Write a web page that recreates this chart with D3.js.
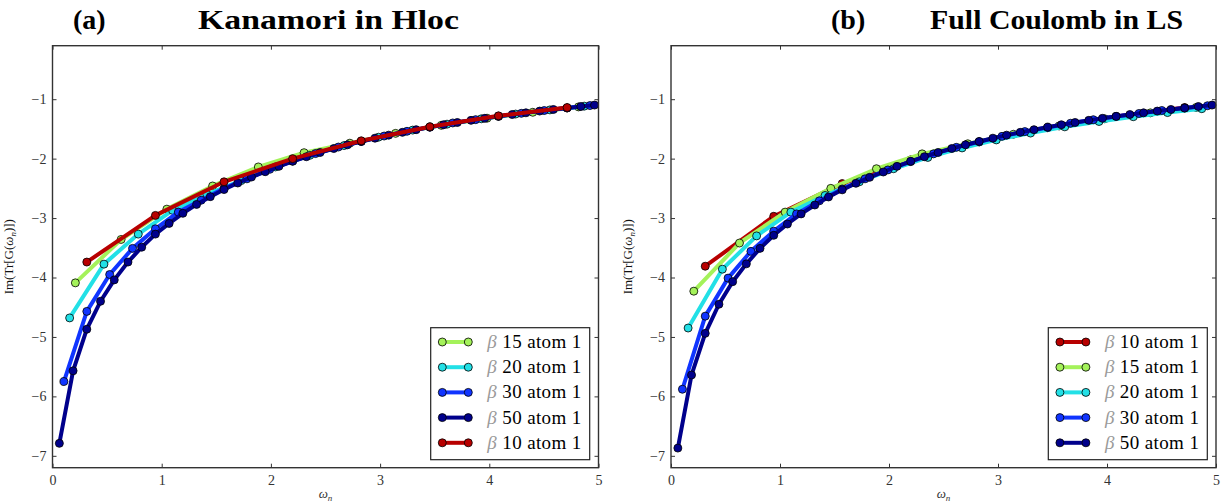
<!DOCTYPE html>
<html>
<head>
<meta charset="utf-8">
<script src="https://cdn.jsdelivr.net/npm/d3@7"></script>
<style>
  body { margin: 0; background: #fff; }
  svg { display: block; }
</style>
</head>
<body>
<svg id="chart" width="1225" height="504"></svg>
<script>
const wBeta10 = [0.3142, 0.9425, 1.5708, 2.1991, 2.8274, 3.4558, 4.0841, 4.7124];
const wBeta15 = [0.2094, 0.6283, 1.0472, 1.4661, 1.8850, 2.3038, 2.7227, 3.1416, 3.5605, 3.9794, 4.3982, 4.8171];
const wBeta20 = [0.1571, 0.4712, 0.7854, 1.0996, 1.4137, 1.7279, 2.0420, 2.3562, 2.6704, 2.9845, 3.2987, 3.6128, 3.9270, 4.2412, 4.5553, 4.8695];
const wBeta30 = [0.1047, 0.3142, 0.5236, 0.7330, 0.9425, 1.1519, 1.3614, 1.5708, 1.7802, 1.9897, 2.1991, 2.4086, 2.6180, 2.8274, 3.0369, 3.2463, 3.4558, 3.6652, 3.8747, 4.0841, 4.2935, 4.5029, 4.7124, 4.9218];
const wBeta50 = [0.0628, 0.1885, 0.3142, 0.4398, 0.5655, 0.6912, 0.8168, 0.9425, 1.0681, 1.1938, 1.3195, 1.4451, 1.5708, 1.6965, 1.8221, 1.9478, 2.0735, 2.1991, 2.3248, 2.4504, 2.5761, 2.7018, 2.8274, 2.9531, 3.0788, 3.2044, 3.3301, 3.4558, 3.5814, 3.7071, 3.8327, 3.9584, 4.0841, 4.2097, 4.3354, 4.4611, 4.5867, 4.7124, 4.8381, 4.9637];

// (a) Kanamori in Hloc : Im(Tr[G(iw_n)])
const kanamori10 = [-3.74, -2.955, -2.39, -2.00, -1.70, -1.464, -1.28, -1.14];
const kanamori15 = [-4.09, -3.36, -2.85, -2.46, -2.14, -1.90, -1.74, -1.575, -1.44, -1.32, -1.22, -1.13];
const kanamori20 = [-4.68, -3.775, -3.27, -2.87, -2.60, -2.37, -2.14, -1.945, -1.78, -1.64, -1.52, -1.42, -1.33, -1.25, -1.18, -1.117];
const kanamori30 = [-5.75, -4.57, -3.95, -3.51, -3.18, -2.90, -2.70, -2.50, -2.34, -2.18, -2.04, -1.915, -1.805, -1.71, -1.62, -1.54, -1.47, -1.40, -1.344, -1.289, -1.238, -1.191, -1.148, -1.107];
const kanamori50 = [-6.79, -5.57, -4.87, -4.40, -4.04, -3.74, -3.49, -3.27, -3.09, -2.92, -2.77, -2.64, -2.52, -2.41, -2.31, -2.22, -2.13, -2.045, -1.968, -1.897, -1.830, -1.768, -1.711, -1.656, -1.605, -1.558, -1.513, -1.470, -1.430, -1.392, -1.356, -1.322, -1.289, -1.258, -1.229, -1.200, -1.173, -1.148, -1.123, -1.099];

// (b) Full Coulomb in LS
const coulomb10 = [-3.81, -2.97, -2.42, -2.02, -1.72, -1.48, -1.29, -1.14];
const coulomb15 = [-4.23, -3.42, -2.90, -2.50, -2.17, -1.92, -1.75, -1.59, -1.45, -1.33, -1.23, -1.14];
const coulomb20 = [-4.85, -3.86, -3.30, -2.90, -2.62, -2.39, -2.17, -1.98, -1.82, -1.685, -1.57, -1.465, -1.375, -1.295, -1.225, -1.16];
const coulomb30 = [-5.88, -4.65, -4.01, -3.56, -3.22, -2.93, -2.71, -2.51, -2.34, -2.19, -2.05, -1.92, -1.81, -1.715, -1.625, -1.545, -1.475, -1.405, -1.345, -1.29, -1.24, -1.19, -1.15, -1.11];
const coulomb50 = [-6.87, -5.64, -4.94, -4.45, -4.07, -3.77, -3.51, -3.29, -3.10, -2.93, -2.78, -2.645, -2.525, -2.415, -2.315, -2.225, -2.13, -2.045, -1.968, -1.897, -1.830, -1.768, -1.711, -1.656, -1.605, -1.558, -1.513, -1.470, -1.430, -1.392, -1.356, -1.322, -1.289, -1.258, -1.229, -1.200, -1.173, -1.148, -1.123, -1.099];

const xTicks = [0, 1, 2, 3, 4, 5];
const yTicks = [-7, -6, -5, -4, -3, -2, -1];

const colors = { 10: "#b80000", 15: "#a4f25a", 20: "#22e0e6", 30: "#1034ff", 50: "#00008c" };

const serif = "'Liberation Serif', 'Times New Roman', serif";
const svg = d3.select("#chart");

function zip(ws, vs) { return ws.map((w, i) => ({ w: w, v: vs[i] })); }

const panels = [
  { tag: "(a)", tagX: 73, title: "Kanamori in Hloc", titleX: 198, titleW: 261,
    x0: 52.5, x1: 598.5, ylabX: 13, legX: 430.7,
    series: [
      { beta: 15, pts: zip(wBeta15, kanamori15) },
      { beta: 20, pts: zip(wBeta20, kanamori20) },
      { beta: 30, pts: zip(wBeta30, kanamori30) },
      { beta: 50, pts: zip(wBeta50, kanamori50) },
      { beta: 10, pts: zip(wBeta10, kanamori10) }
    ] },
  { tag: "(b)", tagX: 831, title: "Full Coulomb in LS", titleX: 930, titleW: 253,
    x0: 671, x1: 1216, ylabX: 632, legX: 1048.3,
    series: [
      { beta: 10, pts: zip(wBeta10, coulomb10) },
      { beta: 15, pts: zip(wBeta15, coulomb15) },
      { beta: 20, pts: zip(wBeta20, coulomb20) },
      { beta: 30, pts: zip(wBeta30, coulomb30) },
      { beta: 50, pts: zip(wBeta50, coulomb50) }
    ] }
];

const yTop = 45.7, yBot = 467.7;

panels.forEach(function(p) {
  const x = d3.scaleLinear().domain([0, 5]).range([p.x0, p.x1]);
  const y = d3.scaleLinear().domain([-7.2, -0.1]).range([yBot, yTop]);
  const g = svg.append("g");

  // titles
  g.append("text").attr("x", p.tagX).attr("y", 28.5)
    .attr("font-family", serif).attr("font-weight", "bold").attr("font-size", 28)
    .text(p.tag);
  g.append("text").attr("x", p.titleX).attr("y", 28.5)
    .attr("font-family", serif).attr("font-weight", "bold").attr("font-size", 28)
    .attr("textLength", p.titleW).attr("lengthAdjust", "spacingAndGlyphs")
    .text(p.title);

  // axes with inward ticks on all four sides
  g.append("g").attr("transform", "translate(0," + yBot + ")")
    .call(d3.axisBottom(x).tickValues(xTicks).tickFormat(d3.format("d")).tickSize(-4).tickPadding(7));
  g.append("g").attr("transform", "translate(" + p.x0 + ",0)")
    .call(d3.axisLeft(y).tickValues(yTicks).tickFormat(d3.format("d")).tickSize(-4).tickPadding(6));
  g.append("g").attr("transform", "translate(0," + yTop + ")")
    .call(d3.axisTop(x).tickValues(xTicks).tickFormat("").tickSize(-4));
  g.append("g").attr("transform", "translate(" + p.x1 + ",0)")
    .call(d3.axisRight(y).tickValues(yTicks).tickFormat("").tickSize(-4));
  g.selectAll(".domain").remove();
  g.selectAll(".tick line").attr("stroke", "#333").attr("stroke-width", 1);
  g.selectAll(".tick text").attr("font-family", serif).attr("font-size", 14).attr("fill", "#333");

  // series: each line then its markers
  const line = d3.line().x(d => x(d.w)).y(d => y(d.v));
  p.series.forEach(function(s) {
    const sg = g.append("g");
    sg.append("path").datum(s.pts).attr("d", line)
      .attr("fill", "none").attr("stroke", colors[s.beta]).attr("stroke-width", 4)
      .attr("stroke-linejoin", "round");
    sg.selectAll("circle").data(s.pts).enter().append("circle")
      .attr("cx", d => x(d.w)).attr("cy", d => y(d.v)).attr("r", 4)
      .attr("fill", colors[s.beta]).attr("stroke", "#000").attr("stroke-width", 0.8);
  });

  // frame
  g.append("rect").attr("x", p.x0).attr("y", yTop)
    .attr("width", p.x1 - p.x0).attr("height", yBot - yTop)
    .attr("fill", "none").attr("stroke", "#333").attr("stroke-width", 1.4);

  // axis labels
  const xl = g.append("text").attr("x", (p.x0 + p.x1) / 2).attr("y", 498)
    .attr("text-anchor", "middle").attr("font-family", serif).attr("font-size", 13).attr("fill", "#333");
  xl.append("tspan").attr("font-style", "italic").text("ω");
  xl.append("tspan").attr("font-style", "italic").attr("font-size", 9).attr("dy", 3).text("n");

  const yl = g.append("text")
    .attr("transform", "translate(" + p.ylabX + "," + ((yTop + yBot) / 2) + ") rotate(-90)")
    .attr("text-anchor", "middle").attr("font-family", serif).attr("font-size", 13).attr("fill", "#111");
  yl.append("tspan").text("Im(Tr[G(");
  yl.append("tspan").attr("font-style", "italic").text("ω");
  yl.append("tspan").attr("font-style", "italic").attr("font-size", 9).attr("dy", 3).text("n");
  yl.append("tspan").attr("dy", -3).text(")])");

  // legend
  const leg = g.append("g").attr("transform", "translate(" + p.legX + ",327.7)");
  leg.append("rect").attr("width", 159).attr("height", 132)
    .attr("fill", "#fff").attr("stroke", "#222").attr("stroke-width", 1.2);
  p.series.forEach(function(s, i) {
    const ry = 14.3 + i * 25.2;
    leg.append("line").attr("x1", 11.6).attr("x2", 37.6).attr("y1", ry).attr("y2", ry)
      .attr("stroke", colors[s.beta]).attr("stroke-width", 4);
    [11.6, 37.6].forEach(function(cx) {
      leg.append("circle").attr("cx", cx).attr("cy", ry).attr("r", 4)
        .attr("fill", colors[s.beta]).attr("stroke", "#000").attr("stroke-width", 0.8);
    });
    const t = leg.append("text").attr("x", 56.6).attr("y", ry + 6)
      .attr("font-family", serif).attr("font-size", 19)
      .attr("textLength", 94).attr("lengthAdjust", "spacing");
    t.append("tspan").attr("font-style", "italic").attr("fill", "#9a9a9a").text("β");
    t.append("tspan").attr("fill", "#000").text(" " + s.beta + " atom 1");
  });
});
</script>
</body>
</html>
